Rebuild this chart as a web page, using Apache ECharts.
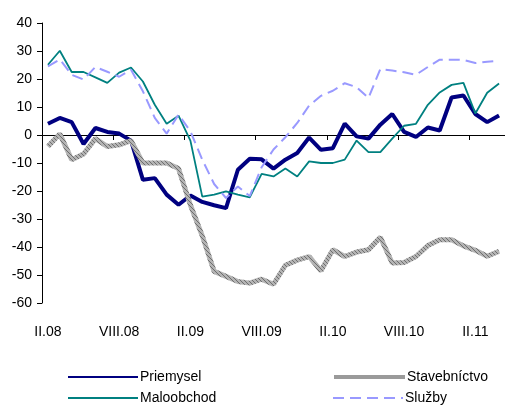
<!DOCTYPE html>
<html>
<head>
<meta charset="utf-8">
<script src="https://cdn.jsdelivr.net/npm/echarts@6/dist/echarts.min.js"></script>
<style>
html,body{margin:0;padding:0;background:#fff;}
#chart{width:505px;height:405px;}
</style>
</head>
<body>
<div id="chart"></div>
<script>
const months = ['II.08','III.08','IV.08','V.08','VI.08','VII.08','VIII.08','IX.08','X.08','XI.08','XII.08',
  'I.09','II.09','III.09','IV.09','V.09','VI.09','VII.09','VIII.09','IX.09','X.09','XI.09','XII.09',
  'I.10','II.10','III.10','IV.10','V.10','VI.10','VII.10','VIII.10','IX.10','X.10','XI.10','XII.10',
  'I.11','II.11','III.11','IV.11'];
const priemysel = [4.0, 6.1, 4.6, -3.2, 2.5, 1.1, 0.5, -2.0, -16.0, -15.4, -21.3, -24.9, -21.6, -23.9, -25.1, -26.1, -12.4, -8.5, -8.7, -12.0, -8.8, -6.4, -0.9, -5.3, -4.7, 4.1, -0.5, -1.3, 3.7, 7.5, 1.1, -0.7, 2.7, 1.6, 13.4, 14.1, 7.5, 4.6, 7.0];
const stavebnictvo = [-4.1, 0.4, -8.8, -6.8, -1.3, -4.1, -3.5, -2.0, -10.0, -10.0, -10.0, -12.0, -25.0, -36.0, -48.7, -50.5, -52.3, -52.9, -51.5, -53.3, -46.5, -44.7, -43.4, -48.5, -41.0, -43.4, -41.8, -41.0, -36.5, -45.7, -45.5, -43.4, -39.5, -37.4, -37.4, -39.6, -41.2, -43.3, -41.5];
const maloobchod = [25.1, 30.1, 22.5, 22.5, 20.6, 18.6, 22.3, 24.1, 19.1, 10.8, 4.0, 6.9, -2.0, -22.0, -21.3, -20.1, -21.3, -22.3, -13.9, -14.8, -12.0, -14.8, -9.4, -10.0, -10.0, -8.8, -2.0, -6.1, -6.1, -1.3, 3.3, 4.0, 10.8, 15.2, 17.9, 18.6, 7.7, 15.1, 18.4];
const sluzby = [24.5, 27.0, 21.5, 19.8, 24.3, 22.6, 20.8, 23.3, 15.6, 6.1, 0.5, 7.3, 1.3, -8.8, -17.5, -22.5, -18.4, -21.8, -11.5, -5.2, -0.8, 4.3, 10.5, 14.0, 15.8, 18.5, 17.1, 13.2, 23.6, 23.0, 22.4, 21.5, 24.3, 26.9, 26.9, 26.8, 25.7, 26.2, 26.5];
const seriesNames = ['Priemysel', 'Stavebníctvo', 'Maloobchod', 'Služby'];

// hatched gray pattern for the construction series
const pc = document.createElement('canvas');
pc.width = 4; pc.height = 4;
const g = pc.getContext('2d');
g.fillStyle = '#b4b4b4'; g.fillRect(0, 0, 4, 4);
g.fillStyle = '#6e6e6e';
for (let i = 0; i < 4; i++) { g.fillRect(i, i, 1, 1); }

const font = 'Liberation Sans, Arial, sans-serif';
const chart = echarts.init(document.getElementById('chart'), null, {renderer: 'canvas'});
const catW = 12.12;
function legendItem(name, left, top, w, lineStyle) {
  const o = {data: [name], orient: 'horizontal', left: left, top: top,
    itemWidth: w, itemHeight: 14, padding: 0, selectedMode: false,
    itemStyle: {opacity: 0, borderWidth: 0},
    textStyle: {fontFamily: font, fontSize: 14, color: '#000', padding: [0, 0, 0, -3]}};
  if (lineStyle) o.lineStyle = lineStyle;
  return o;
}
chart.setOption({
  animation: false,
  backgroundColor: '#fff',
  grid: {left: 42, top: 23, width: catW * months.length, height: 280, containLabel: false},
  legend: [
    legendItem(seriesNames[0], 67, 370, 70),
    legendItem(seriesNames[2], 67, 391, 70),
    legendItem(seriesNames[1], 332, 370, 71, {width: 4, color: '#9a9a9a'}),
    legendItem(seriesNames[3], 332, 391, 70)
  ],
  xAxis: [
    {type: 'category', data: months, boundaryGap: true,
     axisLine: {onZero: true, lineStyle: {color: '#000', width: 1}},
     axisTick: {show: true, interval: 5, length: 5, lineStyle: {color: '#000'}},
     axisLabel: {show: false}, splitLine: {show: false}},
    {type: 'category', data: months, boundaryGap: true, position: 'bottom',
     axisLine: {show: false, onZero: false}, axisTick: {show: false},
     axisLabel: {show: true, interval: 5, margin: 22, fontFamily: font, fontSize: 14, color: '#000'},
     splitLine: {show: false}}
  ],
  yAxis: {
    type: 'value', min: -60, max: 40, interval: 10,
    axisLine: {show: true, lineStyle: {color: '#000', width: 1}},
    axisTick: {show: true, length: 5, lineStyle: {color: '#000'}},
    axisLabel: {margin: 10, fontFamily: font, fontSize: 14, color: '#000'},
    splitLine: {show: false}
  },
  series: [
    {name: seriesNames[0], type: 'line', data: priemysel, symbol: 'none',
     lineStyle: {color: '#000080', width: 4}, itemStyle: {color: '#000080'}},
    {name: seriesNames[1], type: 'line', data: stavebnictvo, symbol: 'none',
     lineStyle: {color: {image: pc, repeat: 'repeat'}, width: 5}, itemStyle: {color: '#999'}},
    {name: seriesNames[2], type: 'line', data: maloobchod, symbol: 'none',
     lineStyle: {color: '#008080', width: 1.8}, itemStyle: {color: '#008080'}},
    {name: seriesNames[3], type: 'line', data: sluzby, symbol: 'none',
     lineStyle: {color: '#9999ff', width: 2, type: [11, 6]}, itemStyle: {color: '#9999ff'}}
  ]
});
</script>
</body>
</html>
